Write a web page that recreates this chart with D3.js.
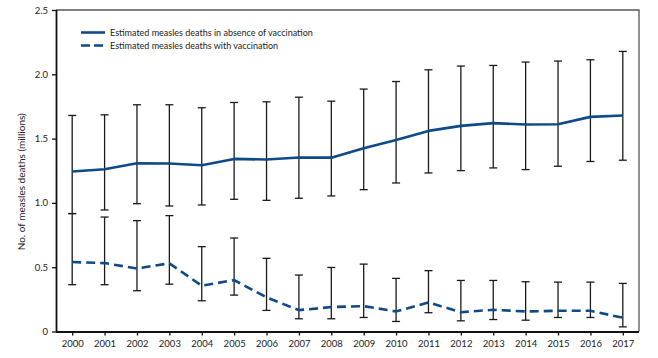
<!DOCTYPE html>
<html><head><meta charset="utf-8">
<script src="https://cdn.jsdelivr.net/npm/d3@7"></script>
<style>body{margin:0;background:#fff}svg{display:block}text{font-family:Lato,sans-serif}</style>
</head><body>
<script>
const years = [2000,2001,2002,2003,2004,2005,2006,2007,2008,2009,2010,2011,2012,2013,2014,2015,2016,2017];
const noVacc =      [1.244,1.262,1.308,1.306,1.293,1.342,1.337,1.353,1.352,1.425,1.49,1.56,1.599,1.62,1.61,1.612,1.669,1.68];
const noVaccLow =   [0.917,0.945,0.994,0.976,0.984,1.028,1.02,1.036,1.054,1.103,1.155,1.233,1.251,1.272,1.259,1.285,1.322,1.332];
const noVaccHigh =  [1.68,1.685,1.763,1.763,1.74,1.781,1.786,1.822,1.791,1.885,1.944,2.035,2.064,2.069,2.095,2.103,2.113,2.178];
const withVacc =    [0.54,0.532,0.49,0.53,0.356,0.40,0.265,0.166,0.19,0.197,0.156,0.226,0.15,0.169,0.156,0.161,0.161,0.107];
const withVaccLow = [0.364,0.364,0.317,0.368,0.239,0.283,0.164,0.099,0.099,0.109,0.078,0.146,0.083,0.093,0.088,0.109,0.109,0.036];
const withVaccHigh= [0.917,0.89,0.862,0.901,0.66,0.727,0.569,0.439,0.498,0.524,0.413,0.473,0.397,0.397,0.387,0.384,0.384,0.374];
const yTicks = [0,0.5,1.0,1.5,2.0,2.5];
const yTickLabels = ["0","0.5","1.0","1.5","2.0","2.5"];
const legendLabels = ["Estimated measles deaths in absence of vaccination","Estimated measles deaths with vaccination"];
const yTitle = "No. of measles deaths (millions)";

const W=658,H=358, L=56,R=639,T=10,B=331.5;
const svg=d3.select("body").append("svg").attr("width",W).attr("height",H);
const x=d3.scalePoint().domain(years).range([L,R]).padding(0.5);
const y=d3.scaleLinear().domain([0,2.5]).range([B,T]);
const blue="#0e4a87";

// frame top/right
svg.append("path").attr("d",`M${L},${T}H${R}V${B}`).attr("fill","none").attr("stroke","#555").attr("stroke-width",1.3);

// axes
const yAx=svg.append("g").attr("transform",`translate(${L},0)`)
  .call(d3.axisLeft(y).tickValues(yTicks).tickFormat((d,i)=>yTickLabels[i]).tickSize(4).tickPadding(4));
const xAx=svg.append("g").attr("transform",`translate(0,${B})`)
  .call(d3.axisBottom(x).tickSize(4).tickPadding(5));
[yAx,xAx].forEach(g=>{
  g.select(".domain").attr("stroke","#111").attr("stroke-width",1.8);
  g.selectAll(".tick line").attr("stroke","#111").attr("stroke-width",1.3);
  g.selectAll(".tick text").attr("font-size",9.5).attr("fill","#222").attr("font-family","Lato,sans-serif");
});
xAx.select(".domain").attr("d",`M${L},0.5H${R}`);
yAx.select(".domain").attr("d",`M0.5,${T}V${B}`);

svg.append("text").attr("transform",`translate(25,${(T+B)/2+11}) rotate(-90)`)
  .attr("text-anchor","middle").attr("font-size",10).attr("fill","#222").text(yTitle);

// error bars
function bars(lo,hi){
  const g=svg.append("g").attr("stroke","#1a1a1a").attr("stroke-width",1.3);
  years.forEach((yr,i)=>{
    const cx=x(yr);
    g.append("line").attr("x1",cx).attr("x2",cx).attr("y1",y(lo[i])).attr("y2",y(hi[i]));
    g.append("line").attr("x1",cx-4).attr("x2",cx+4).attr("y1",y(lo[i])).attr("y2",y(lo[i]));
    g.append("line").attr("x1",cx-4).attr("x2",cx+4).attr("y1",y(hi[i])).attr("y2",y(hi[i]));
  });
}
bars(noVaccLow,noVaccHigh);
bars(withVaccLow,withVaccHigh);

const line=d3.line().x((d,i)=>x(years[i])).y(d=>y(d));
svg.append("path").datum(noVacc).attr("d",line).attr("fill","none").attr("stroke",blue).attr("stroke-width",2.6).attr("stroke-linejoin","round");
svg.append("path").datum(withVacc).attr("d",line).attr("fill","none").attr("stroke",blue).attr("stroke-width",2.6).attr("stroke-dasharray","9,5");

// legend
const lg=svg.append("g");
legendLabels.forEach((t,i)=>{
  const ly=32.5+i*13;
  lg.append("line").attr("x1",81).attr("x2",105).attr("y1",ly).attr("y2",ly).attr("stroke",blue).attr("stroke-width",2.6)
    .attr("stroke-dasharray",i?"9,4":null);
  lg.append("text").attr("x",110).attr("y",ly+3.3).attr("font-size",9).attr("fill","#222").text(t);
});
</script>
</body></html>
